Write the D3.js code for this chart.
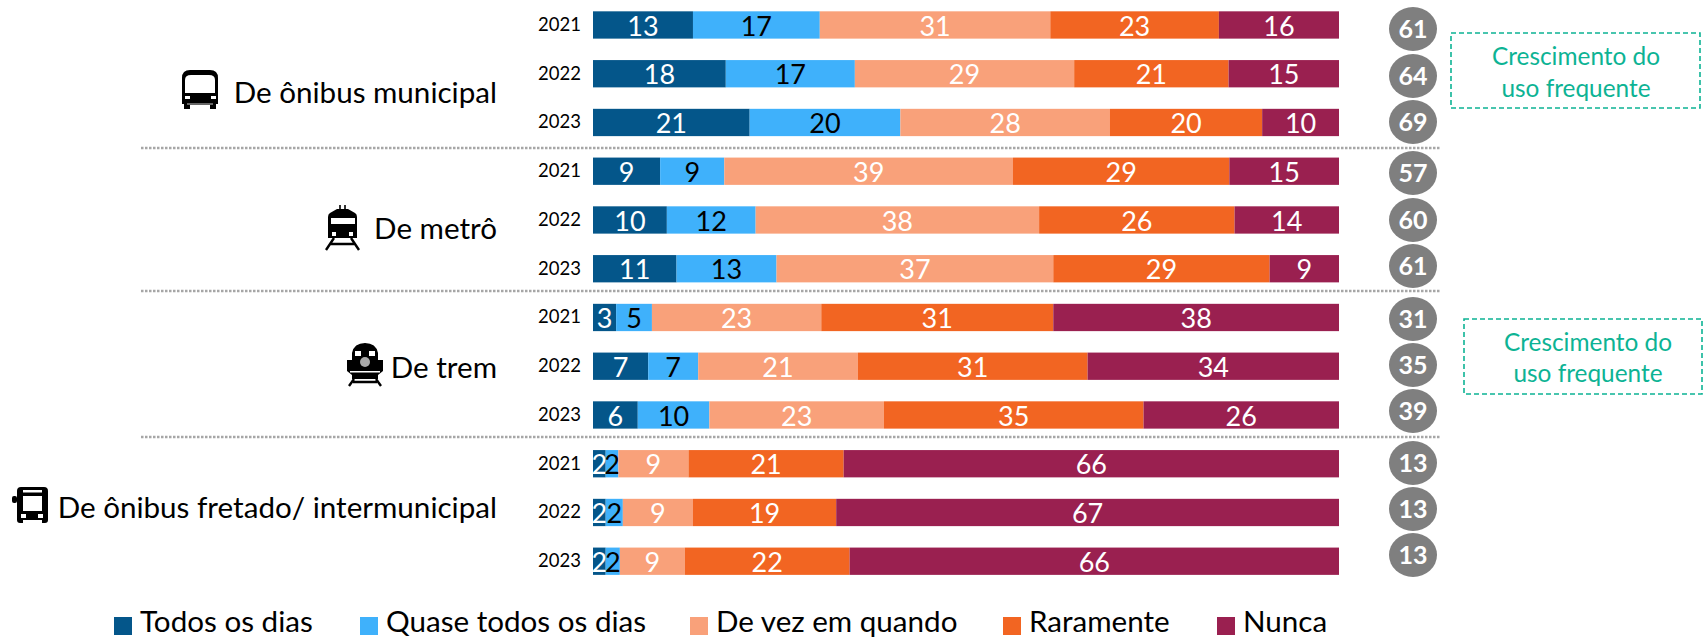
<!DOCTYPE html>
<html lang="pt">
<head>
<meta charset="utf-8">
<script src="https://cdn.jsdelivr.net/npm/d3@7/dist/d3.min.js"></script>
<style>
html,body{margin:0;padding:0;background:#fff;overflow:hidden}
svg{display:block;font-family:Lato,"Open Sans",sans-serif}
</style>
</head>
<body>
<svg id="c" width="1703" height="638"></svg>
<script>
const series = ["Todos os dias","Quase todos os dias","De vez em quando","Raramente","Nunca"];
const colors = ["#04568a","#3fb1fb","#f9a17a","#f26522","#9a2050"];
const labelColors = ["#fff","#000","#fff","#fff","#fff"];
const groups = ["De ônibus municipal","De metrô","De trem","De ônibus fretado/ intermunicipal"];
const years = ["2021","2022","2023"];

const todosOsDias  = [13.4,17.8,21.0, 9.0, 9.9,11.2, 3.1,7.4,6.0, 1.7,1.7,1.7];
const quaseTodos   = [17.0,17.3,20.2, 8.6,11.9,13.4, 4.8,6.7,9.6, 1.7,2.3,1.9];
const deVezEmQuando= [30.9,29.4,28.1,38.7,38.0,37.1,22.7,21.4,23.4, 9.4,9.4,8.7];
const raramente    = [22.6,20.7,20.4,29.0,26.2,29.0,31.1,30.8,34.8,20.8,19.2,22.1];
const nunca        = [16.1,14.8,10.3,14.7,14.0, 9.3,38.3,33.7,26.2,66.4,67.4,65.6];
const usoFrequente = [61,64,69,57,60,61,31,35,39,13,13,13];
const calloutLines = ["Crescimento do","uso frequente"];

const svg = d3.select("#c");
const rows = d3.range(12);
const x = d3.scaleLinear().domain([0,100]).range([593,1339]);
const y = d3.scaleBand().domain(rows).range([0.6,585.6]).paddingInner(0.44).paddingOuter(0.22);
const stackRows = rows.map(i => ({i, 0:todosOsDias[i],1:quaseTodos[i],2:deVezEmQuando[i],3:raramente[i],4:nunca[i]}));
const stacked = d3.stack().keys([0,1,2,3,4])(stackRows);

// separators
svg.append("g").selectAll("line").data([148,291,437]).join("line")
  .attr("x1",141).attr("x2",1440).attr("y1",d=>d).attr("y2",d=>d)
  .attr("stroke","#a6a6a6").attr("stroke-width",2.5).attr("stroke-dasharray","2.5 1.5");

// bars
const layer = svg.append("g").selectAll("g").data(stacked).join("g").attr("fill",d=>colors[d.key]);
layer.selectAll("rect").data(d=>d).join("rect")
  .attr("x",d=>x(d[0])).attr("width",d=>x(d[1])-x(d[0]))
  .attr("y",d=>y(d.data.i)).attr("height",y.bandwidth());
layer.selectAll("text").data(d=>d.map(p=>Object.assign(p,{k:d.key}))).join("text")
  .attr("x",d=>(x(d[0])+x(d[1]))/2)
  .attr("y",d=>y(d.data.i)+y.bandwidth()/2+1)
  .attr("dy",".36em").attr("text-anchor","middle")
  .attr("font-size",27).attr("fill",d=>labelColors[d.k])
  .text(d=>Math.round(d[1]-d[0]));

// year axis
const yearAxis = d3.axisLeft(y).tickSize(0).tickPadding(0).tickFormat(i=>years[i%3]);
const ya = svg.append("g").attr("transform","translate(581,0)").call(yearAxis);
ya.select(".domain").remove();
ya.selectAll("text").attr("font-size",18.5).attr("font-family","Lato").attr("fill","#000");

// group labels
const groupY = [93,229,368,508];
svg.append("g").selectAll("text").data(groups).join("text")
  .attr("x",497).attr("y",(d,i)=>groupY[i]).attr("dy",".35em")
  .attr("text-anchor","end").attr("font-size",29.6).attr("fill","#000").text(d=>d);

// circles
const cg = svg.append("g").selectAll("g").data(usoFrequente).join("g")
  .attr("transform",(d,i)=>`translate(1413,${[29,76,122,173,220,266,319,365,411,463,509,555][i]})`);
cg.append("ellipse").attr("rx",24).attr("ry",22).attr("fill","#7f7f7f");
cg.append("text").attr("text-anchor","middle").attr("dy",".36em")
  .attr("font-size",25).attr("font-weight",700).attr("fill","#fff").text(d=>d);

// callouts
const boxes = [{x:1451,y:33,w:249,h:75,cx:1576,l:[56,88]},{x:1464,y:319,w:238,h:75,cx:1588,l:[342,373]}];
const bg = svg.append("g").selectAll("g").data(boxes).join("g");
bg.append("rect").attr("x",d=>d.x).attr("y",d=>d.y).attr("width",d=>d.w).attr("height",d=>d.h)
  .attr("fill","none").attr("stroke","#0db394").attr("stroke-width",1.6).attr("stroke-dasharray","5 3");
calloutLines.forEach((t,j)=>{
  bg.append("text").attr("x",d=>d.cx).attr("y",d=>d.l[j]).attr("dy",".35em").attr("text-anchor","middle")
    .attr("font-size",24.4).attr("fill","#0db394").text(t);
});

// legend
const legX = [114,360,690,1003,1217];
const lg = svg.append("g").selectAll("g").data(series).join("g").attr("transform",(d,i)=>`translate(${legX[i]},617)`);
lg.append("rect").attr("width",18).attr("height",18).attr("fill",(d,i)=>colors[i]);
lg.append("text").attr("x",26).attr("y",15).attr("font-size",29.6).attr("fill","#000").text(d=>d);

// icons
function rects(g,list,fill){ list.forEach(r=>g.append("rect").attr("x",r[0]).attr("y",r[1]).attr("width",r[2]).attr("height",r[3]).attr("rx",r[4]||0).attr("fill",fill)); }
function bus(g){ // origin 175,62
  g.append("path").attr("d","M7 16 Q7 8 15 8 H35 Q43 8 43 16 V42 H41 V47 H35 V42 H15 V47 H9 V42 H7 Z").attr("fill","#000");
  g.append("path").attr("d","M10 31 V18 Q10 13 16 13 H34 Q40 13 40 18 V31 Z").attr("fill","#fff");
  rects(g,[[10,34,5,3],[36,34,5,3]],"#fff");
  rects(g,[[12,41,26,2]],"#666");
}
function metro(g){ // origin 315,200
  rects(g,[[24,5,2,5],[29,5,2,5]],"#333");
  g.append("path").attr("d","M15 13 L22 9 H33 L40 13 Q42 14 42 17 V38 H13 V17 Q13 14 15 13 Z").attr("fill","#000");
  rects(g,[[16,18,24,6]],"#fff");
  rects(g,[[17,32,4,4],[34,32,4,4]],"#fff");
  g.append("path").attr("d","M19 38 L11 50 M36 38 L44 50 M15 44 H40").attr("stroke","#000").attr("stroke-width",2.4).attr("fill","none");
}
function train(g){ // origin 340,338
  g.append("path").attr("d","M12 15 Q14 5 25 5 Q36 5 38 15 V22 H43 V33 L38 37 V41 H12 V37 L7 33 V22 H12 Z").attr("fill","#000");
  rects(g,[[15,13,6,5],[29,13,6,5],[10,33,30,1.5]],"#fff");
  g.append("circle").attr("cx",25).attr("cy",24).attr("r",5).attr("fill","#aaa");
  g.append("path").attr("d","M14 41 L9 48 M36 41 L41 48 M13 44 H37").attr("stroke","#000").attr("stroke-width",2.4).attr("fill","none");
}
function coach(g){ // origin 5,480
  g.append("path").attr("d","M12 11 Q12 7 16 7 H39 Q43 7 43 11 V40 Q43 43 40 43 H37 V40 H18 V43 H15 Q12 43 12 40 Z").attr("fill","#000");
  rects(g,[[7,16,5,7,2]],"#000");
  rects(g,[[18,10,19,2.5],[18,16,19,15]],"#fff");
  rects(g,[[16,34,5,4],[33,34,5,4]],"#fff");
}
bus(svg.append("g").attr("transform","translate(175,62)"));
metro(svg.append("g").attr("transform","translate(315,200)"));
train(svg.append("g").attr("transform","translate(340,338)"));
coach(svg.append("g").attr("transform","translate(5,480)"));
</script>
</body>
</html>
